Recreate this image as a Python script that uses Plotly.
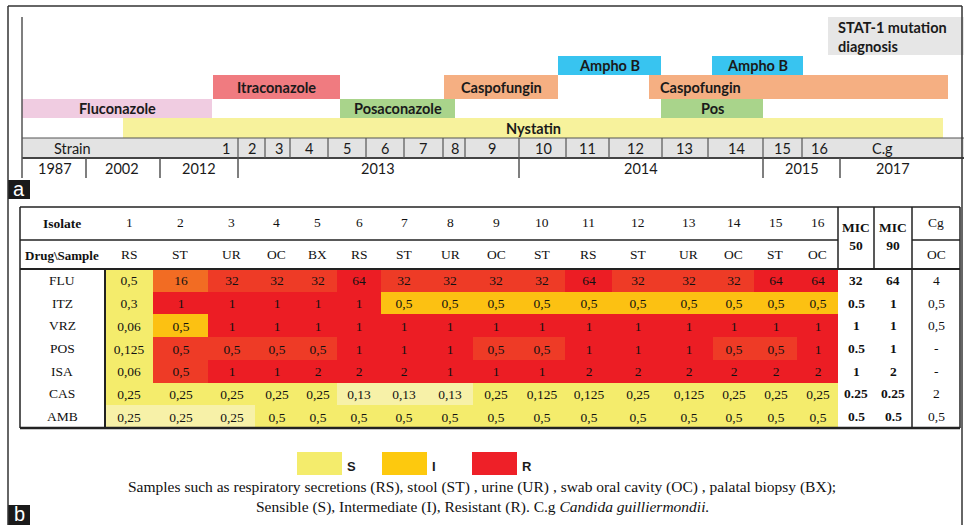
import plotly.graph_objects as go

W, H = 964, 525

# ---------------- Panel a: treatment timeline ----------------
tl_drugs = ["Fluconazole", "Itraconazole", "Posaconazole", "Caspofungin", "Ampho B",
            "Caspofungin", "Pos", "Ampho B", "Nystatin"]
tl_start = [22, 213, 340, 444, 558, 649, 661, 712, 123]
tl_end = [212, 340, 455, 558, 661, 948, 763, 803, 943]
tl_level = [1, 2, 1, 2, 3, 2, 1, 3, 0]
tl_align = ["center", "center", "center", "center", "center", "left", "center", "center", "center"]
drug_colors = {"Fluconazole": "#F0CCE1", "Itraconazole": "#F07B80", "Posaconazole": "#A9D48B",
               "Pos": "#A9D48B", "Caspofungin": "#F5AF82", "Ampho B": "#38C4F0",
               "Nystatin": "#F7F29C"}
level_top = [118, 99, 75, 56]
level_bot = [138, 118, 99, 75]

strain_labels = ["Strain", "1", "2", "3", "4", "5", "6", "7", "8", "9", "10", "11", "12",
                 "13", "14", "15", "16", "C.g"]
strain_label_x = [72, 226, 252, 279, 309, 347, 385, 423, 455, 492, 543, 587, 635, 684, 736,
                  782, 819, 882]
strain_dividers = [238, 265, 290, 328, 366, 404, 443, 465, 519, 566, 609, 662, 708, 763, 802]
years = ["1987", "2002", "2012", "2013", "2014", "2015", "2017"]
year_x = [55, 122, 199, 378, 641, 802, 893]
year_dividers = [86, 160, 238, 519, 763, 840]

# ---------------- Panel b: MIC table ----------------
isolates = [str(i) for i in range(1, 17)]
samples = ["RS", "ST", "UR", "OC", "BX", "RS", "ST", "UR", "OC", "ST", "RS", "ST", "UR", "OC", "ST", "OC"]
drugs = ["FLU", "ITZ", "VRZ", "POS", "ISA", "CAS", "AMB"]
mic = [
    ["0,5", "16", "32", "32", "32", "64", "32", "32", "32", "32", "64", "32", "32", "32", "64", "64"],
    ["0,3", "1", "1", "1", "1", "1", "0,5", "0,5", "0,5", "0,5", "0,5", "0,5", "0,5", "0,5", "0,5", "0,5"],
    ["0,06", "0,5", "1", "1", "1", "1", "1", "1", "1", "1", "1", "1", "1", "1", "1", "1"],
    ["0,125", "0,5", "0,5", "0,5", "0,5", "1", "1", "1", "0,5", "0,5", "1", "1", "1", "0,5", "0,5", "1"],
    ["0,06", "0,5", "1", "1", "2", "2", "2", "1", "1", "1", "2", "2", "2", "2", "2", "2"],
    ["0,25", "0,25", "0,25", "0,25", "0,25", "0,13", "0,13", "0,13", "0,25", "0,125", "0,125", "0,25",
     "0,125", "0,25", "0,25", "0,25"],
    ["0,25", "0,25", "0,25", "0,5", "0,5", "0,5", "0,5", "0,5", "0,5", "0,5", "0,5", "0,5", "0,5", "0,5",
     "0,5", "0,5"],
]
# shading class: 0 pale S, 1 S, 2 I, 3 R(16), 4 R(32 / 0.5), 5 R
shade = [
    [1, 3, 4, 4, 4, 5, 4, 4, 4, 4, 5, 4, 4, 4, 5, 5],
    [1, 5, 5, 5, 5, 5, 2, 2, 2, 2, 2, 2, 2, 2, 2, 2],
    [1, 2, 5, 5, 5, 5, 5, 5, 5, 5, 5, 5, 5, 5, 5, 5],
    [1, 4, 4, 4, 4, 5, 5, 5, 4, 4, 5, 5, 5, 4, 4, 5],
    [1, 4, 5, 5, 5, 5, 5, 5, 5, 5, 5, 5, 5, 5, 5, 5],
    [1, 1, 1, 1, 1, 0, 0, 0, 1, 1, 1, 1, 1, 1, 1, 1],
    [0, 0, 0, 1, 1, 1, 1, 1, 1, 1, 1, 1, 1, 1, 1, 1],
]
shade_colors = ["#F7F1A8", "#F4EC6C", "#FCC112", "#F26C23", "#EE3B26", "#EC1D24"]
mic50 = ["32", "0.5", "1", "0.5", "1", "0.25", "0.5"]
mic90 = ["64", "1", "1", "1", "2", "0.25", "0.5"]
cg = ["4", "0,5", "0,5", "-", "-", "2", "0,5"]

legend_labels = ["S", "I", "R"]
legend_colors = ["#F4EC6C", "#FDC90E", "#EE2028"]
caption1 = ("Samples such as respiratory secretions (RS), stool (ST) , urine (UR) , swab oral cavity (OC) ,"
            " palatal biopsy (BX);")
caption2 = "Sensible (S), Intermediate (I), Resistant (R). C.g <i>Candida guilliermondii.</i>"

# ---------------- layout helpers ----------------
col_edges = [105, 153, 208, 255, 298, 337, 381, 427, 473, 519, 565, 612, 664, 713, 754, 797, 838]
tbl_top, hdr_mid, hdr_bot, tbl_bot = 207, 240, 269, 428
row_edges = [hdr_bot + i * (tbl_bot - hdr_bot) / len(drugs) for i in range(len(drugs) + 1)]
row_c = [(row_edges[i] + row_edges[i + 1]) / 2 for i in range(len(drugs))]
col_c = [(col_edges[i] + col_edges[i + 1]) / 2 for i in range(len(isolates))]

SANS = "Lato"
SERIF = "Liberation Serif"
DARK = "#333333"

fig = go.Figure()
shapes = []
ann = []


def line(x0, y0, x1, y1, w=1.5, c=DARK):
    shapes.append(dict(type="line", xref="x", yref="y", x0=x0, y0=y0, x1=x1, y1=y1,
                       line=dict(color=c, width=w), layer="above"))


def rect(x0, y0, x1, y1, fill, lw=0, lc=DARK, layer="below"):
    shapes.append(dict(type="rect", xref="x", yref="y", x0=x0, y0=y0, x1=x1, y1=y1,
                       fillcolor=fill, line=dict(color=lc, width=lw), layer=layer))


def text(x, y, s, size=14, family=SANS, color="#1a1a1a", anchor="center"):
    ann.append(dict(x=x, y=y, xref="x", yref="y", text=s, showarrow=False, xanchor=anchor,
                    yanchor="middle", font=dict(family=family, size=size, color=color)))


# timeline bars
fig.add_trace(go.Bar(
    orientation="h",
    base=tl_start,
    x=[e - s for s, e in zip(tl_start, tl_end)],
    y=[(level_top[l] + level_bot[l]) / 2 for l in tl_level],
    width=[level_bot[l] - level_top[l] for l in tl_level],
    marker=dict(color=[drug_colors[d] for d in tl_drugs], line=dict(width=0)),
    hoverinfo="skip", showlegend=False,
))
for d, s, e, l, a in zip(tl_drugs, tl_start, tl_end, tl_level, tl_align):
    yc = (level_top[l] + level_bot[l]) / 2
    if a == "left":
        text(s + 9, yc, f"<b>{d}</b>", anchor="left", size=14.5)
    else:
        text((s + e) / 2, yc, f"<b>{d}</b>", size=14.5)

# STAT-1 box
rect(828, 17, 964, 55, "#E6E6E6")
text(836, 27, "<b>STAT-1 mutation</b>", anchor="left", size=14.5)
text(836, 46, "<b>diagnosis</b>", anchor="left", size=14.5)

# strain row
rect(22, 138, 964, 158, "#E3E3E3")
line(22, 138, 964, 138, 1.2, "#555555")
line(22, 158, 964, 158, 2, "#444444")
for x in strain_dividers:
    line(x, 138, x, 158, 1.2, "#555555")
for s, x in zip(strain_labels, strain_label_x):
    text(x, 148, s, size=14.5)
for x in year_dividers:
    line(x, 158, x, 178, 1.5, "#555555")
for s, x in zip(years, year_x):
    text(x, 168, s, size=14.5)
line(22, 17, 22, 178, 1.5, "#555555")

# panel labels
rect(8, 180, 30, 199, "#1a1a1a", layer="above")
text(19, 189, "a", size=20, family="Liberation Sans", color="white")
rect(8, 505, 30, 525, "#1a1a1a", layer="above")
text(19, 514, "b", size=20, family="Liberation Sans", color="white")

# outer border
line(8, 6, 962, 6, 1.5, "#333333")
line(8, 6, 8, 525, 1.5, "#333333")
line(962, 6, 962, 525, 1.5, "#333333")

# heatmap table
n = len(shade_colors)
cs = []
for i, c in enumerate(shade_colors):
    cs.append([i / n, c])
    cs.append([(i + 1) / n, c])
fig.add_trace(go.Heatmap(
    z=shade, x=col_edges, y=row_edges, text=mic, texttemplate="%{text}",
    textfont=dict(family=SERIF, size=13.5, color="#111111"),
    colorscale=cs, zmin=-0.5, zmax=n - 0.5, showscale=False, hoverinfo="skip",
    xgap=0, ygap=0,
))

# table lines
line(20, tbl_top, 960, tbl_top, 1.5, "#222222")
line(20, tbl_top, 20, tbl_bot, 1.5, "#222222")
line(960, tbl_top, 960, tbl_bot, 1.5, "#222222")
line(20, tbl_bot, 960, tbl_bot, 2.5, "#222222")
line(20, hdr_bot, 960, hdr_bot, 2, "#222222")
line(20, hdr_mid, 838, hdr_mid, 1.5, "#222222")
line(912, hdr_mid, 960, hdr_mid, 1.5, "#222222")
line(105, hdr_bot, 105, tbl_bot, 2, "#222222")
line(838, tbl_top, 838, hdr_bot, 1.5, "#222222")
line(874, tbl_top, 874, hdr_bot, 1.5, "#222222")
line(912, tbl_top, 912, tbl_bot, 1.5, "#222222")

# table headers
text(62, 223, "<b>Isolate</b>", size=13.5, family=SERIF, color="#111111")
text(62, 255, "<b>Drug\\Sample</b>", size=13, family=SERIF, color="#111111")
for s, sm, x in zip(isolates, samples, col_c):
    text(x, 222, s, size=13.5, family=SERIF, color="#111111")
    text(x, 254, sm, size=13.5, family=SERIF, color="#111111")
text(856, 236, "<b>MIC<br>50</b>", size=13.5, family=SERIF, color="#111111")
text(893, 236, "<b>MIC<br>90</b>", size=13.5, family=SERIF, color="#111111")
text(936, 222, "Cg", size=13.5, family=SERIF, color="#111111")
text(936, 254, "OC", size=13.5, family=SERIF, color="#111111")
for d, a, b, c, y in zip(drugs, mic50, mic90, cg, row_c):
    text(62, y, d, size=13.5, family=SERIF, color="#111111")
    text(856, y, f"<b>{a}</b>", size=13.5, family=SERIF, color="#111111")
    text(893, y, f"<b>{b}</b>", size=13.5, family=SERIF, color="#111111")
    text(936, y, c, size=13.5, family=SERIF, color="#111111")

# legend
leg_x = [297, 382, 472]
for lab, col, x in zip(legend_labels, legend_colors, leg_x):
    rect(x, 452, x + 45, 475, col)
    text(x + 48, 466, f"<b>{lab}</b>", size=13, family="Liberation Sans", anchor="left")
text(482, 487, caption1, size=15.5, family=SERIF, color="#111111")
text(482, 507, caption2, size=15.5, family=SERIF, color="#111111")

fig.update_layout(
    width=W, height=H, margin=dict(l=0, r=0, t=0, b=0),
    paper_bgcolor="white", plot_bgcolor="white",
    xaxis=dict(range=[0, W], visible=False, fixedrange=True),
    yaxis=dict(range=[H, 0], visible=False, fixedrange=True),
    shapes=shapes, annotations=ann, bargap=0,
)
fig.write_html("out.html", config={"displayModeBar": False},
               post_script="document.body.style.margin='0px';")
